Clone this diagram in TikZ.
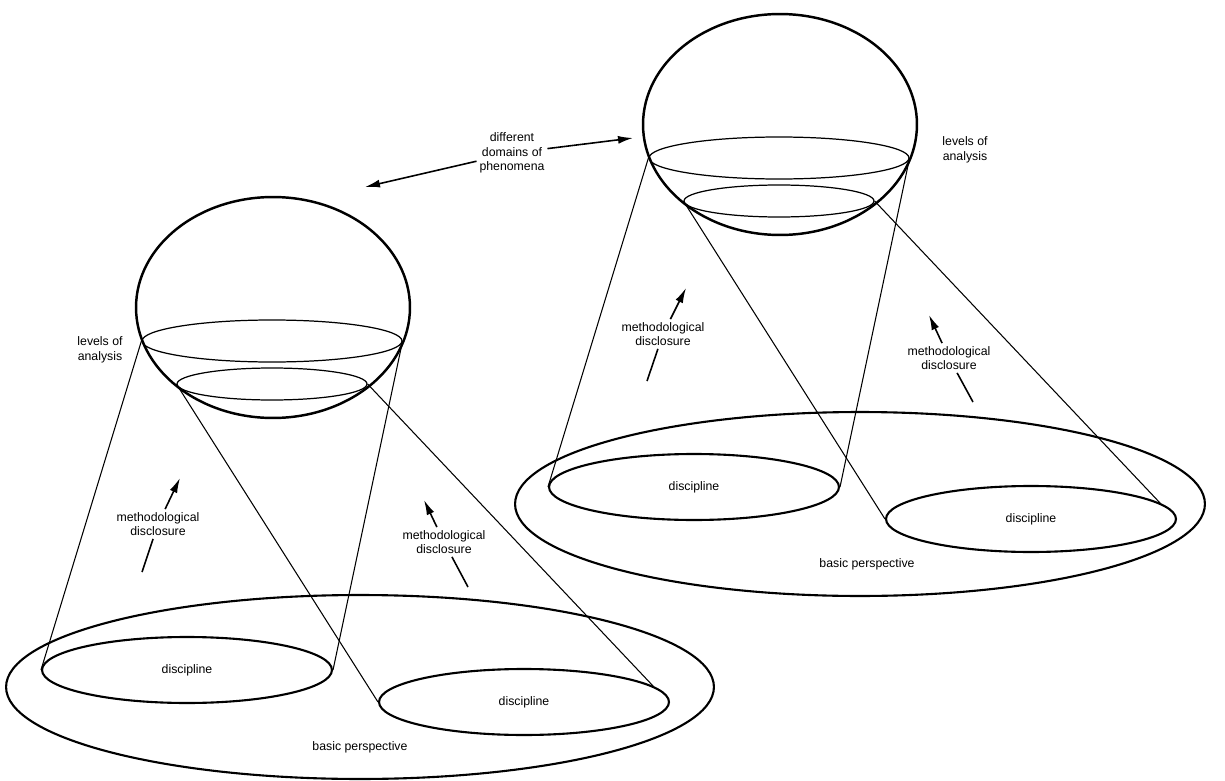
\documentclass[tikz,border=0pt]{standalone}
\usepackage{fontspec}
\newfontfamily\lblfont{Liberation Sans}
\usetikzlibrary{positioning}
\usetikzlibrary{shapes.geometric}
\usetikzlibrary{arrows.meta}
\tikzset{
	sphere/.style={
		ellipse,
		draw,
		line width=1.4pt,
		minimum width=5.48cm,
		minimum height=4.42cm,
		inner sep=0pt
	},
	level/.style={
		ellipse,
		draw,
		line width=0.7pt,
		inner sep=0pt
	},
	disc/.style={
		ellipse,
		draw,
		line width=1.2pt,
		minimum width=5.8cm,
		minimum height=1.32cm,
		inner sep=0pt,
		font=\lblfont\fontsize{7}{8.4}\selectfont
	},
	persp/.style={
		ellipse,
		draw,
		line width=1.2pt,
		minimum width=14.16cm,
		minimum height=3.68cm,
		inner sep=0pt
	},
	tag/.style={
		align=center,
		inner sep=1.5pt,
		font=\lblfont\fontsize{7}{8.4}\selectfont
	},
	ray/.style={line width=0.6pt},
	pointer/.style={line width=0.9pt, -{Latex[length=3mm,width=1.6mm]}}
}
\begin{document}
\begin{tikzpicture}[x=0.02cm,y=-0.02cm]
	\useasboundingbox (0,0) rectangle (1225,781);
	% left group
	\node[persp] (bpL) at (360,687) {};
	\node[disc] (discL1) at (187,670) {discipline};
	\node[disc] (discL2) at (524,702) {discipline};
	\node[sphere] (sphL) at (273,307.5) {};
	\node[level, minimum width=5.2cm, minimum height=0.84cm] (levL1) at (272,341) {};
	\node[level, minimum width=3.8cm, minimum height=0.64cm] (levL2) at (272,384) {};
	\node[tag] (bpLtxt) at (360,747) {basic perspective};
	\node[tag] (levLtxt) at (100,350) {levels of\\analysis};
	\draw[ray] (levL1.west) -- (discL1.west);
	\draw[ray] (levL1.east) -- (discL1.east);
	\draw[ray] (levL2.west) -- (discL2.west);
	\draw[ray] (levL2.east) -- (discL2.7);
	\node[tag] (mdL1) at (158,524) {methodological\\disclosure};
	\node[tag] (mdL2) at (444,542) {methodological\\disclosure};
	\coordinate (tipL1) at (180,478);
	\coordinate (tailL1) at (142,572);
	\coordinate (tipL2) at (424,500);
	\coordinate (tailL2) at (468,587);
	\draw[pointer] (mdL1) -- (tipL1);
	\draw[line width=0.9pt] (mdL1) -- (tailL1);
	\draw[pointer] (mdL2) -- (tipL2);
	\draw[line width=0.9pt] (mdL2) -- (tailL2);
	% right group
	\node[persp, minimum width=13.8cm] (bpR) at (860,504) {};
	\node[disc] (discR1) at (694,487) {discipline};
	\node[disc] (discR2) at (1031,519) {discipline};
	\node[sphere] (sphR) at (780,124.5) {};
	\node[level, minimum width=5.2cm, minimum height=0.84cm] (levR1) at (779,158) {};
	\node[level, minimum width=3.8cm, minimum height=0.64cm] (levR2) at (779,201) {};
	\node[tag] (bpRtxt) at (867,564) {basic perspective};
	\node[tag] (levRtxt) at (965,150) {levels of\\analysis};
	\draw[ray] (levR1.west) -- (discR1.west);
	\draw[ray] (levR1.east) -- (discR1.east);
	\draw[ray] (levR2.west) -- (discR2.west);
	\draw[ray] (levR2.east) -- (discR2.7);
	\node[tag] (mdR1) at (663,334) {methodological\\disclosure};
	\node[tag] (mdR2) at (949,358) {methodological\\disclosure};
	\coordinate (tipR1) at (686,288);
	\coordinate (tailR1) at (647,381);
	\coordinate (tipR2) at (929,315);
	\coordinate (tailR2) at (973,402);
	\draw[pointer] (mdR1) -- (tipR1);
	\draw[line width=0.9pt] (mdR1) -- (tailR1);
	\draw[pointer] (mdR2) -- (tipR2);
	\draw[line width=0.9pt] (mdR2) -- (tailR2);
	% between the two spheres
	\node[tag] (domains) at (512,153) {different\\domains of\\phenomena};
	\coordinate (tipA) at (365,187);
	\coordinate (tipB) at (633,138);
	\draw[pointer] (domains) -- (tipA);
	\draw[pointer] (domains) -- (tipB);
\end{tikzpicture}
\end{document}
